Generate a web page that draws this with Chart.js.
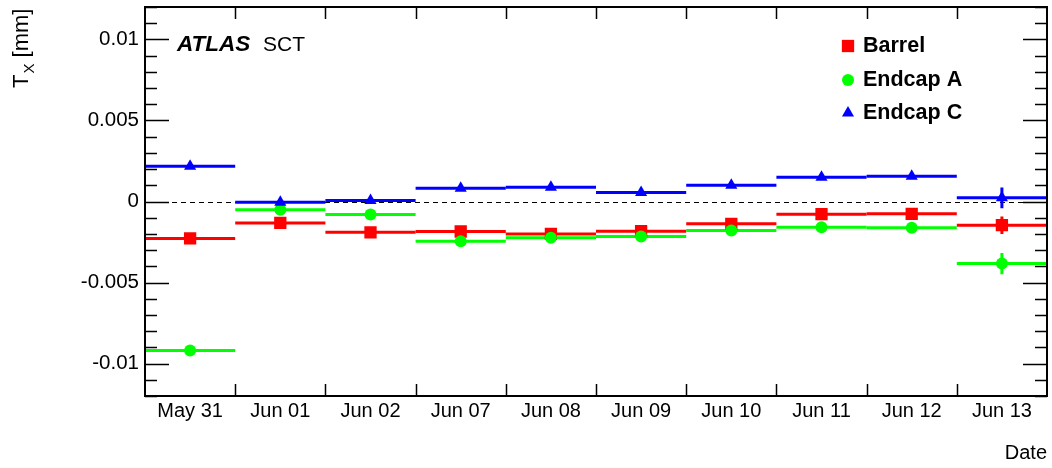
<!DOCTYPE html>
<html>
<head>
<meta charset="utf-8">
<script src="https://cdn.jsdelivr.net/npm/chart.js@4/dist/chart.umd.min.js"></script>
<style>
  html, body { margin: 0; padding: 0; background: #fff; }
  #wrap { width: 1052px; height: 468px; }
</style>
</head>
<body>
<div id="wrap"><canvas id="c" width="1052" height="468"></canvas></div>
<script>
// run dates (one bin each)
const dates = ['May 31', 'Jun 01', 'Jun 02', 'Jun 07', 'Jun 08', 'Jun 09', 'Jun 10', 'Jun 11', 'Jun 12', 'Jun 13'];

// T_X [mm] per date, with vertical errors
const barrel     = [-0.00228, -0.00132, -0.0019, -0.00185, -0.002, -0.00183, -0.00138, -0.00078, -0.00076, -0.00146];
const barrelErr  = [0.0001, 0.0001, 0.0001, 0.0001, 0.0001, 0.0001, 0.0001, 0.0001, 0.0001, 0.00054];
const endcapA    = [-0.0092, -0.00051, -0.0008, -0.00245, -0.00224, -0.00216, -0.00179, -0.00159, -0.00162, -0.00383];
const endcapAErr = [0.00012, 0.00012, 0.00012, 0.00012, 0.00012, 0.00012, 0.00012, 0.00012, 0.00012, 0.00066];
const endcapC    = [0.00218, -0.00004, 0.00006, 0.00082, 0.00088, 0.00056, 0.001, 0.0015, 0.00156, 0.00023];
const endcapCErr = [0.0001, 0.0001, 0.0001, 0.0001, 0.0001, 0.0001, 0.0001, 0.0001, 0.0001, 0.00064];

// labelled y ticks
const yTickValues = [-0.01, -0.005, 0, 0.005, 0.01];
const yTickLabels = ['-0.01', '-0.005', '0', '0.005', '0.01'];

const FONT = '"Liberation Sans", Arial, Helvetica, sans-serif';

const series = [
  { label: 'Barrel',   data: barrel,  err: barrelErr,  color: '#ff0000', style: 'rect',     radius: 8.7, order: 3 },
  { label: 'Endcap A', data: endcapA, err: endcapAErr, color: '#00ff00', style: 'circle',   radius: 6,   order: 2 },
  { label: 'Endcap C', data: endcapC, err: endcapCErr, color: '#0000ff', style: 'triangle', radius: 7,   order: 1 }
];

// --- error bars + zero line (under the markers) ---
const errorBars = {
  id: 'errorBars',
  beforeDatasetsDraw(chart) {
    const { ctx, chartArea, scales: { x, y } } = chart;
    const half = (x.getPixelForValue(1) - x.getPixelForValue(0)) / 2;

    ctx.save();
    // dashed zero line
    ctx.strokeStyle = '#000';
    ctx.lineWidth = 1;
    ctx.setLineDash([5, 4]);
    const y0 = Math.round(y.getPixelForValue(0)) + 0.5;
    ctx.beginPath();
    ctx.moveTo(chartArea.left, y0);
    ctx.lineTo(chartArea.right, y0);
    ctx.stroke();
    ctx.setLineDash([]);

    series.forEach(s => {
      ctx.strokeStyle = s.color;
      ctx.lineWidth = 3;
      s.data.forEach((v, i) => {
        const cx = x.getPixelForValue(i);
        const py = y.getPixelForValue(v);
        ctx.beginPath();
        ctx.moveTo(cx - half, py);
        ctx.lineTo(cx + half, py);
        ctx.moveTo(cx, y.getPixelForValue(v - s.err[i]));
        ctx.lineTo(cx, y.getPixelForValue(v + s.err[i]));
        ctx.stroke();
      });
    });
    ctx.restore();
  }
};

// --- ROOT-style frame, inward ticks, titles, legend, label ---
const decorations = {
  id: 'decorations',
  afterDraw(chart) {
    const { ctx, chartArea: a, scales: { x, y } } = chart;
    ctx.save();
    ctx.strokeStyle = '#000';
    ctx.lineWidth = 2;
    ctx.strokeRect(a.left, a.top, a.right - a.left, a.bottom - a.top);

    // y ticks on both sides
    ctx.lineWidth = 1.5;
    y.ticks.forEach(t => {
      const k = Math.round(t.value / 0.005);
      const major = Math.abs(t.value - k * 0.005) < 1e-9;
      const len = major ? 24 : 12;
      const py = Math.round(y.getPixelForValue(t.value)) + 0.5;
      ctx.beginPath();
      ctx.moveTo(a.left, py);  ctx.lineTo(a.left + len, py);
      ctx.moveTo(a.right, py); ctx.lineTo(a.right - len, py);
      ctx.stroke();
    });

    // x ticks at bin edges, top and bottom
    const half = (x.getPixelForValue(1) - x.getPixelForValue(0)) / 2;
    for (let i = 1; i < dates.length; i++) {
      const px = Math.round(x.getPixelForValue(i) - half) + 0.5;
      ctx.beginPath();
      ctx.moveTo(px, a.bottom); ctx.lineTo(px, a.bottom - 12);
      ctx.moveTo(px, a.top);    ctx.lineTo(px, a.top + 12);
      ctx.stroke();
    }

    ctx.fillStyle = '#000';

    // x title
    ctx.font = '20px ' + FONT;
    ctx.textAlign = 'right';
    ctx.textBaseline = 'middle';
    ctx.fillText('Date', a.right, 453);

    // y title T_X [mm], rotated
    ctx.save();
    ctx.translate(28, 88);
    ctx.rotate(-Math.PI / 2);
    ctx.textAlign = 'left';
    ctx.textBaseline = 'alphabetic';
    ctx.font = '22px ' + FONT;
    ctx.fillText('T', 0, 0);
    let off = ctx.measureText('T').width + 1;
    ctx.font = '15px ' + FONT;
    ctx.fillText('X', off, 6);
    off += ctx.measureText('X').width;
    ctx.font = '22px ' + FONT;
    ctx.fillText(' [mm]', off, 0);
    ctx.restore();

    // ATLAS SCT
    ctx.textAlign = 'left';
    ctx.textBaseline = 'middle';
    ctx.font = 'italic bold 22.5px ' + FONT;
    ctx.fillText('ATLAS', 177, 45);
    ctx.font = '21px ' + FONT;
    ctx.fillText('SCT', 263, 45);

    // legend
    const rows = [46, 80, 113];
    series.forEach((s, i) => {
      ctx.fillStyle = s.color;
      Chart.helpers.drawPoint(ctx, { pointStyle: s.style, radius: s.radius, rotation: 0, borderWidth: 0 }, 848, rows[i]);
      ctx.fillStyle = '#000';
      ctx.font = 'bold 21.5px ' + FONT;
      ctx.fillText(s.label, 863, rows[i]);
    });
    ctx.restore();
  }
};

new Chart(document.getElementById('c'), {
  type: 'line',
  data: {
    labels: dates,
    datasets: series.map(s => ({
      label: s.label,
      data: s.data,
      showLine: false,
      order: s.order,
      pointStyle: s.style,
      pointRadius: s.radius,
      pointHoverRadius: s.radius,
      pointBackgroundColor: s.color,
      pointBorderColor: s.color,
      pointBorderWidth: 0
    }))
  },
  options: {
    responsive: false,
    animation: false,
    events: [],
    layout: { autoPadding: false, padding: { left: 0, right: 5, top: 7, bottom: 0 } },
    plugins: { legend: { display: false }, tooltip: { enabled: false } },
    scales: {
      x: {
        type: 'category',
        offset: true,
        grid: { display: false, drawTicks: false },
        border: { display: false },
        ticks: {
          autoSkip: false,
          maxRotation: 0,
          padding: 3,
          color: '#000',
          font: { family: FONT, size: 20 }
        },
        afterFit(s) { s.height = 72; s.paddingLeft = 0; s.paddingRight = 0; }
      },
      y: {
        type: 'linear',
        min: -0.012,
        max: 0.012,
        grid: { display: false, drawTicks: false },
        border: { display: false },
        ticks: {
          stepSize: 0.001,
          autoSkip: false,
          padding: 6,
          color: '#000',
          font: { family: FONT, size: 20.5 },
          callback(v) {
            const i = yTickValues.findIndex(t => Math.abs(t - v) < 1e-9);
            return i >= 0 ? yTickLabels[i] : '';
          }
        },
        afterFit(s) { s.width = 145; s.paddingTop = 0; s.paddingBottom = 0; }
      }
    }
  },
  plugins: [errorBars, decorations]
});
</script>
</body>
</html>
